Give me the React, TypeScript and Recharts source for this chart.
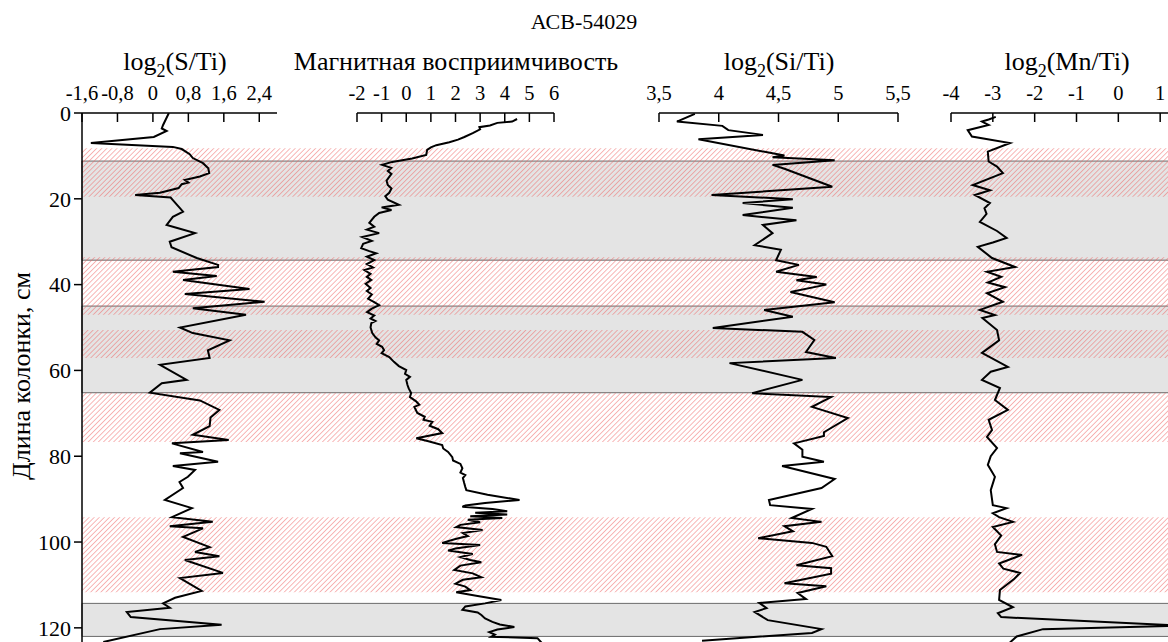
import { LineChart, Line, XAxis, YAxis, ReferenceArea } from 'recharts'

const FONT = '"Liberation Serif", "Times New Roman", serif'

// depth axis (cm), 0 at the top of the plot
const depthDomain = [0, 124]
const depthTicks = [0, 20, 40, 60, 80, 100, 120]

// shaded intervals (cm)
const grayBands = [[11.2, 34.3], [45, 65.2], [114.3, 122]]
const hatchBands = [[8.2, 19.5], [33.6, 47], [50.6, 57.1], [65.2, 76.7], [94.2, 111.7]]

// log2(S/Ti)
const sTicks = [-1.6, -0.8, 0, 0.8, 1.6, 2.4]
const sDepth = [0, 2.8, 3.6, 4.2, 5.6, 7.0, 7.9, 8.4, 9.6, 10.5, 11.7, 12.9, 14, 14.8, 15.6, 16.2, 16.6, 17.5, 18.6, 19.1, 19.7, 20.3, 23, 24.2, 26.1, 26.8, 28, 30, 31.3, 33.8, 35.4, 35.9, 37, 38, 38.9, 41, 42.2, 44, 45.5, 47, 50, 51.3, 53, 55.3, 57.1, 58.7, 62.2, 63, 65.2, 67, 69.2, 71, 73, 75, 76.2, 77, 79, 79.3, 81.3, 82.3, 83.2, 84.8, 86, 87.4, 90.2, 92.1, 94.2, 95.3, 96.3, 96.8, 98.8, 101.2, 102.3, 103.3, 104.2, 107.2, 108.4, 111.4, 113, 114.3, 115.3, 116.3, 117.5, 119.3, 120.3, 123.3]
const sValue = [0.36, 0.23, 0.2, 0.31, 0.02, -1.4, 0.45, 0.65, 0.83, 0.9, 1.13, 1.25, 1.27, 1.06, 0.72, 0.8, 0.65, 0.58, 0.16, -0.4, 0.4, 0.45, 0.68, 0.45, 0.31, 0.55, 0.95, 0.38, 0.42, 0.99, 1.47, 1.47, 0.45, 1.44, 0.68, 2.18, 0.72, 2.52, 0.9, 2.1, 0.61, 0.9, 1.73, 1.24, 1.28, 0.16, 0.76, 0.2, -0.07, 1.06, 1.5, 1.3, 1.28, 0.9, 1.71, 0.43, 1.13, 0.61, 1.47, 0.45, 0.95, 0.79, 0.6, 0.68, 0.27, 0.88, 0.43, 1.35, 0.38, 1.13, 0.68, 1.28, 0.95, 1.5, 0.72, 1.58, 0.61, 1.1, 0.5, 0.23, 0.38, -0.59, -0.5, 1.55, 0.16, -1.12]

// magnetic susceptibility
const mTicks = [-2, -1, 0, 1, 2, 3, 4, 5, 6]
const mDepth = [1.4, 2.0, 2.3, 2.9, 3.3, 3.8, 4.7, 5.6, 6.2, 6.8, 7.5, 8.0, 8.6, 9.8, 10.6, 11.4, 12.1, 12.8, 13.5, 14.2, 14.9, 15.8, 16.8, 17.6, 18.6, 19.4, 20.2, 21.4, 22.0, 22.6, 23.3, 24.2, 25.6, 26.5, 27.2, 28.0, 28.9, 29.8, 30.5, 31.5, 32.2, 32.7, 33.5, 34.3, 35.2, 36.0, 36.6, 37.5, 38.2, 38.9, 39.8, 40.8, 41.5, 42.3, 43.3, 44.1, 44.8, 45.6, 46.4, 47.2, 47.9, 48.5, 49.0, 50.0, 51.3, 52.3, 53.0, 53.8, 54.5, 55.3, 56.0, 56.9, 58.0, 59.0, 59.9, 60.8, 61.5, 62.2, 63.4, 64.2, 65.3, 66.2, 67.2, 68.0, 68.5, 69.9, 70.8, 71.5, 72.0, 72.9, 73.7, 74.6, 75.8, 76.5, 77.4, 78.2, 79.0, 80.2, 81.0, 81.8, 82.8, 83.8, 84.4, 85.1, 86.2, 87.2, 87.9, 89.0, 90.2, 90.9, 91.5, 91.8, 92.3, 92.8, 93.2, 93.6, 94.0, 94.4, 94.8, 95.4, 96.0, 96.5, 97.2, 97.9, 98.6, 99.3, 100.2, 100.7, 101.5, 102.0, 102.8, 103.5, 104.2, 104.7, 105.5, 106.5, 107.3, 108.2, 108.8, 109.7, 110.4, 111.2, 111.7, 112.6, 113.5, 114.3, 115.0, 115.8, 116.4, 117.0, 117.8, 118.6, 119.2, 119.8, 120.4, 121.0, 121.6, 122.1, 122.4, 123.5]
const mValue = [4.5, 4.3, 3.7, 3.4, 2.97, 3.0, 2.7, 2.36, 2.1, 1.75, 1.22, 1.0, 0.85, 0.81, 0.24, -0.57, -0.98, -0.61, -0.75, -0.6, -0.69, -0.8, -0.75, -0.6, -0.69, -0.85, -0.75, -0.3, -1.0, -0.6, -1.1, -1.3, -1.5, -1.3, -1.6, -1.1, -1.79, -1.4, -1.75, -1.83, -1.5, -1.22, -1.6, -1.3, -1.6, -1.35, -1.7, -1.45, -1.6, -1.42, -1.65, -1.45, -1.6, -1.4, -1.55, -1.3, -1.1, -1.4, -1.59, -1.3, -1.45, -1.25, -1.42, -1.45, -1.38, -1.25, -1.1, -1.2, -0.98, -0.9, -1.0, -0.69, -0.5, -0.3, 0.0, -0.05, 0.15, 0.0, 0.05, 0.1, 0.2, 0.15, 0.4, 0.53, 0.33, 0.45, 0.75, 0.7, 1.06, 0.95, 1.3, 1.46, 0.41, 0.9, 1.46, 1.5, 1.7, 1.87, 1.9, 2.2, 2.28, 2.2, 2.4, 2.3, 2.35, 2.4, 2.44, 3.3, 4.6, 3.2, 2.4, 2.28, 3.5, 4.1, 2.8, 4.1, 2.6, 3.9, 2.5, 3.0, 2.2, 2.03, 3.1, 2.3, 2.5, 2.0, 1.46, 3.0, 2.0, 1.7, 2.7, 2.2, 2.6, 3.05, 2.2, 1.95, 2.7, 3.05, 2.3, 2.0, 2.4, 2.6, 2.03, 2.9, 3.86, 3.2, 2.4, 2.28, 2.9, 3.05, 3.2, 3.5, 3.8, 4.39, 3.7, 3.37, 3.6, 3.45, 5.33, 5.5]

// log2(Si/Ti)
const siTicks = [3.5, 4, 4.5, 5, 5.5]
const siDepth = [0.2, 2.0, 3.0, 4.0, 5.1, 6.1, 9.4, 9.9, 10.3, 11.0, 12.1, 13.0, 17.2, 19.1, 20.1, 21.0, 22.1, 23.8, 25.0, 26.1, 28.0, 30.8, 31.9, 34.3, 35.4, 37.0, 38.2, 39.0, 40.0, 41.7, 44.1, 45.9, 47.5, 50.1, 51.0, 52.9, 55.7, 57.1, 58.3, 62.2, 65.3, 66.2, 68.5, 71.1, 74.4, 75.3, 77.0, 78.5, 80.1, 81.3, 82.3, 85.3, 87.4, 90.2, 91.4, 92.3, 94.4, 95.3, 96.3, 97.5, 99.1, 100.2, 101.1, 103.3, 105.4, 106.1, 107.4, 109.6, 110.3, 111.9, 113.3, 114.2, 115.4, 116.3, 118.2, 120.3, 121.2, 123.0]
const siValue = [3.8, 3.65, 4.03, 4.08, 4.37, 3.83, 4.45, 4.55, 4.45, 4.97, 4.45, 4.55, 4.95, 3.94, 4.62, 4.2, 4.62, 4.2, 4.65, 4.37, 4.45, 4.3, 4.52, 4.48, 4.67, 4.48, 4.82, 4.65, 4.9, 4.6, 4.97, 4.38, 4.62, 3.95, 4.7, 4.8, 4.73, 4.98, 4.09, 4.7, 4.28, 4.94, 4.78, 5.08, 4.88, 4.88, 4.63, 4.7, 4.7, 4.88, 4.53, 4.97, 4.86, 4.42, 4.43, 4.78, 4.61, 4.86, 4.55, 4.62, 4.33, 4.78, 4.9, 4.95, 4.65, 4.94, 4.94, 4.55, 4.9, 4.66, 4.73, 4.34, 4.4, 4.3, 4.41, 4.86, 4.78, 3.86]

// log2(Mn/Ti)
const mnTicks = [-4, -3, -2, -1, 0, 1]
const mnDepth = [0.9, 1.5, 2.0, 2.8, 4.0, 5.5, 7.0, 9.0, 11.3, 12.5, 14.0, 16.8, 18.0, 19.1, 21.0, 22.2, 23.5, 25.4, 27.5, 29.1, 30.2, 31.2, 33.8, 35.9, 37.0, 38.2, 39.5, 40.6, 42.0, 44.0, 45.9, 47.1, 47.8, 50.6, 53.0, 55.9, 59.2, 60.3, 62.2, 64.1, 66.9, 69.2, 71.5, 73.9, 75.5, 78.1, 80.0, 82.0, 84.8, 87.9, 91.4, 92.1, 93.3, 94.2, 95.3, 96.5, 98.5, 100.5, 102.3, 103.0, 105.0, 106.2, 107.2, 108.7, 111.2, 113.5, 115.2, 116.6, 117.5, 119.5, 120.3, 122.0, 123.5]
const mnValue = [-2.93, -3.1, -3.26, -3.1, -3.6, -3.5, -2.59, -3.12, -3.1, -2.9, -2.76, -3.48, -3.07, -3.43, -3.07, -3.2, -3.15, -3.31, -2.9, -2.67, -3.0, -3.36, -3.02, -2.47, -3.14, -2.8, -3.12, -2.71, -3.14, -2.76, -3.31, -2.95, -3.25, -2.9, -2.85, -3.26, -2.64, -3.05, -3.26, -2.83, -2.95, -2.64, -3.1, -3.02, -3.14, -2.9, -3.05, -3.12, -2.95, -3.05, -3.0, -2.67, -3.0, -2.85, -2.52, -3.0, -2.8, -2.95, -2.9, -2.3, -2.85, -2.75, -2.35, -2.5, -2.83, -2.85, -2.52, -2.88, -2.8, 1.6, -1.8, -2.43, -2.6]

const CHART_H = 700
const PLOT_TOP = 113
const PLOT_BOTTOM = 645
const AXIS_H = 30
const PAD = 30

const TopTick = (props: any) => {
  const { x, y, payload } = props
  return (
    <g>
      <line x1={x} y1={y} x2={x} y2={y + 9} stroke="#000" strokeWidth={1.5} />
      <text x={x} y={y - 13} textAnchor="middle" fontFamily={FONT} fontSize={20.5} fill="#000">
        {String(payload.value).replace('.', ',')}
      </text>
    </g>
  )
}

interface PanelProps {
  left: number
  width: number
  domain: [number, number]
  ticks: number[]
  depth: number[]
  values: number[]
}

const Panel = ({ left, width, domain, ticks, depth, values }: PanelProps) => {
  const data = depth.map((d, i) => ({ d, v: values[i] }))
  return (
    <div style={{ position: 'absolute', left: left - PAD, top: 0 }}>
      <LineChart
        layout="vertical"
        width={width + 2 * PAD}
        height={CHART_H}
        data={data}
        margin={{ top: PLOT_TOP - AXIS_H, right: PAD, bottom: CHART_H - PLOT_BOTTOM, left: PAD }}
      >
        <XAxis
          type="number"
          orientation="top"
          domain={domain}
          ticks={ticks}
          interval={0}
          height={AXIS_H}
          allowDataOverflow
          axisLine={{ stroke: '#000', strokeWidth: 1.5 }}
          tickLine={false}
          tickSize={0}
          tickMargin={0}
          tick={(p: any) => <TopTick {...p} />}
        />
        <YAxis type="number" dataKey="d" domain={depthDomain} hide allowDataOverflow />
        <Line dataKey="v" stroke="#000" strokeWidth={2} dot={false} isAnimationActive={false} />
      </LineChart>
    </div>
  )
}

// band layer: gray intervals and red hatching across the whole width
const bgData = [{ d: 0, x: 0 }, { d: 124, x: 1 }]

const Background = () => (
  <div style={{ position: 'absolute', left: 0, top: 0 }}>
    <LineChart
      layout="vertical"
      width={1220}
      height={CHART_H}
      data={bgData}
      margin={{ top: PLOT_TOP, right: 0, bottom: CHART_H - PLOT_BOTTOM, left: 0 }}
    >
      <defs>
        <pattern id="hatch" width="3.6" height="3.6" patternUnits="userSpaceOnUse" patternTransform="rotate(45)">
          <line x1="0" y1="0" x2="0" y2="3.6" stroke="#ef6464" strokeWidth="1.1" />
        </pattern>
      </defs>
      <XAxis type="number" dataKey="x" domain={[0, 1]} hide />
      <YAxis
        type="number"
        dataKey="d"
        domain={depthDomain}
        ticks={depthTicks}
        interval={0}
        width={82}
        allowDataOverflow
        axisLine={{ stroke: '#000', strokeWidth: 1.5 }}
        tickLine={{ stroke: '#000', strokeWidth: 1.5 }}
        tickSize={8}
        tickMargin={3}
        tick={{ fill: '#000', fontSize: 22, fontFamily: FONT }}
      />
      {grayBands.map(([a, b]) => (
        <ReferenceArea
          key={'g' + a}
          x1={0}
          x2={1}
          y1={a}
          y2={b}
          ifOverflow="visible"
          fill="#e4e4e4"
          fillOpacity={1}
          stroke="#6a6a6a"
          strokeWidth={1}
        />
      ))}
      {hatchBands.map(([a, b]) => (
        <ReferenceArea
          key={'h' + a}
          x1={0}
          x2={1}
          y1={a}
          y2={b}
          ifOverflow="visible"
          fill="url(#hatch)"
          fillOpacity={0.85}
          stroke="none"
        />
      ))}
      <Line dataKey="x" stroke="none" dot={false} isAnimationActive={false} />
    </LineChart>
  </div>
)

const Log2Title = ({ x, label }: { x: number; label: string }) => (
  <text x={x} y={70} textAnchor="middle" fontFamily={FONT} fontSize={26} fill="#000">
    log<tspan fontSize={18} dy={7}>2</tspan>
    <tspan dy={-7}>{label}</tspan>
  </text>
)

export default function App() {
  return (
    <div style={{ position: 'absolute', left: 0, top: 0, width: 1168, height: 642, overflow: 'hidden', background: '#fff' }}>
      <Background />
      <Panel left={82} width={195} domain={[-1.6, 2.8]} ticks={sTicks} depth={sDepth} values={sValue} />
      <Panel left={357} width={197} domain={[-2, 6]} ticks={mTicks} depth={mDepth} values={mValue} />
      <Panel left={659} width={239} domain={[3.5, 5.5]} ticks={siTicks} depth={siDepth} values={siValue} />
      <Panel left={951} width={251} domain={[-4, 2]} ticks={mnTicks} depth={mnDepth} values={mnValue} />
      <svg width={1168} height={642} style={{ position: 'absolute', left: 0, top: 0, pointerEvents: 'none' }}>
        <text x={584} y={29} textAnchor="middle" fontFamily={FONT} fontSize={22} fill="#000">АСВ-54029</text>
        <Log2Title x={175} label="(S/Ti)" />
        <text x={456} y={70} textAnchor="middle" fontFamily={FONT} fontSize={26} fill="#000">Магнитная восприимчивость</text>
        <Log2Title x={779} label="(Si/Ti)" />
        <Log2Title x={1067} label="(Mn/Ti)" />
        <text
          x={21}
          y={376}
          transform="rotate(-90 21 376)"
          textAnchor="middle"
          dominantBaseline="central"
          fontFamily={FONT}
          fontSize={26}
          fill="#000"
        >
          Длина колонки, см
        </text>
      </svg>
    </div>
  )
}
